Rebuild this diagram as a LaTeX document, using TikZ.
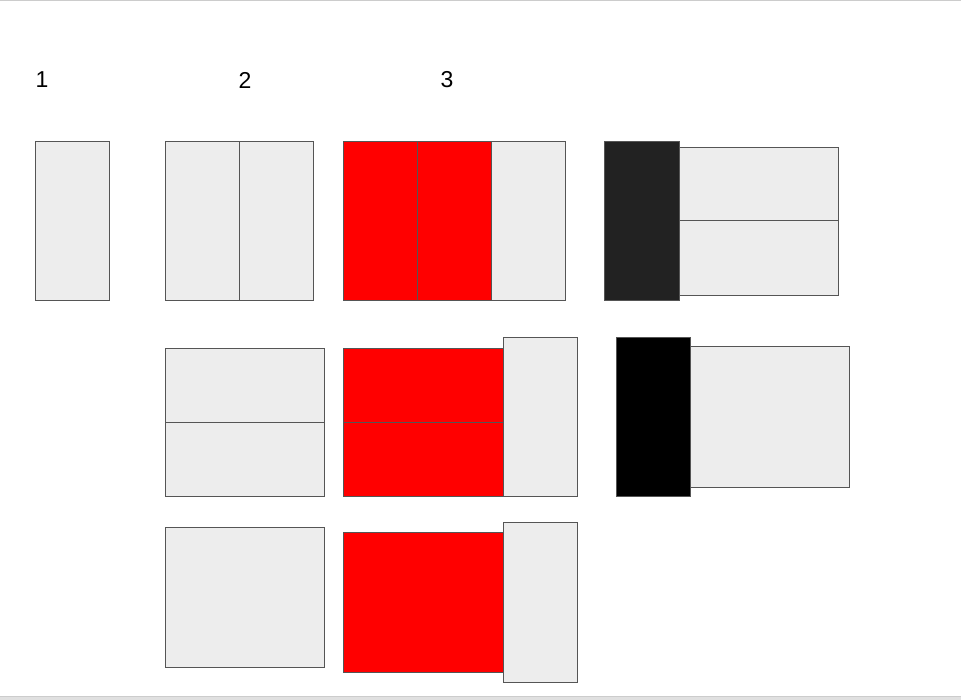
\documentclass[tikz,border=0pt]{standalone}
\usepackage{fontspec}
\setmainfont{Liberation Sans}
\usepackage{tikz}
\definecolor{cellgray}{HTML}{EDEDED}
\definecolor{edgegray}{HTML}{555555}
\definecolor{darkcell}{HTML}{222222}
\definecolor{framegray}{HTML}{CCCCCC}
\tikzset{
	cell/.style={fill=cellgray, draw=edgegray, line width=1.3pt},
	redcell/.style={cell, fill=red, line width=1.6pt},
	blackcell/.style={cell, fill=black},
	darkbox/.style={cell, fill=darkcell},
	num/.style={font=\fontsize{23}{27}\selectfont, inner sep=0pt}
}

\begin{document}
\begin{tikzpicture}[x=1pt, y=-1pt]
		\useasboundingbox (0,0) rectangle (961,700);
		% frame lines
		\fill[framegray] (0,0) rectangle (961,1.5);
		\fill[framegray!60] (0,696) rectangle (961,700);
		\fill[framegray] (0,695.5) rectangle (961,697);
		% column labels
		\node[num] (lab1) at (42,80) {1};
		\node[num] (lab2) at (245,80) {2};
		\node[num] (lab3) at (447,80) {3};
		\begin{scope}[shift={(0.5,0.5)}]
		% column 1
		\draw[cell] (35,141) rectangle (109,300);
		% column 2
		\draw[cell] (165,141) rectangle (239,300);
		\draw[cell] (239,141) rectangle (313,300);
		\draw[cell] (165,348) rectangle (324,422);
		\draw[cell] (165,422) rectangle (324,496);
		\draw[cell] (165,527) rectangle (324,667);
		% column 3
		\draw[redcell] (343,141) rectangle (417,300);
		\draw[redcell] (417,141) rectangle (491,300);
		\draw[cell] (491,141) rectangle (565,300);
		\draw[redcell] (343,348) rectangle (503,422);
		\draw[redcell] (343,422) rectangle (503,496);
		\draw[cell] (503,337) rectangle (577,496);
		\draw[redcell] (343,532) rectangle (503,672);
		\draw[cell] (503,522) rectangle (577,682);
		% column 4
		\draw[cell] (679,147) rectangle (838,220);
		\draw[cell] (679,220) rectangle (838,295);
		\draw[darkbox] (604,141) rectangle (679,300);
		\draw[cell] (690,346) rectangle (849,487);
		\draw[blackcell] (616,337) rectangle (690,496);
		\end{scope}
	\end{tikzpicture}
\end{document}
